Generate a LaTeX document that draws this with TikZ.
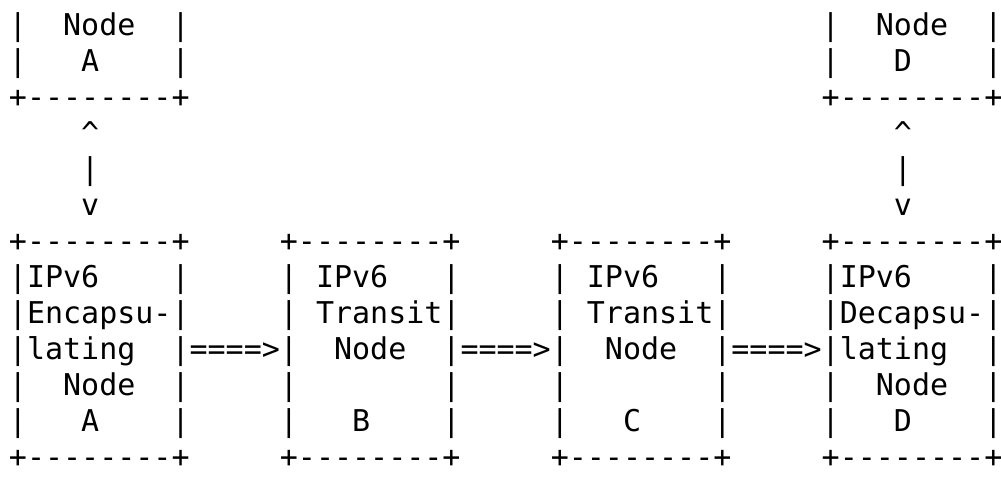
\documentclass[tikz,border=0pt]{standalone}
\usepackage{fontspec}
\setmonofont{DejaVu Sans Mono}
\frenchspacing
\tikzset{
  ascii/.style={font=\ttfamily\fontsize{15pt}{18pt}\selectfont,
    anchor=base west,inner sep=0pt,outer sep=0pt}
}

\begin{document}
\begin{tikzpicture}[x=9.03pt,y=-18pt]
  \useasboundingbox (0pt,0pt) rectangle (500.5pt,-247pt);
  \begin{scope}[shift={(4.5pt,-17.5pt)}]
  % end nodes, upper row
  \node[ascii] (upA1) at (0,0) {|~~Node~~|};
  \node[ascii] (upA2) at (0,1) {|~~~A~~~~|};
  \node[ascii] (upA3) at (0,2) {+--------+};
  \node[ascii] (upD1) at (45,0) {|~~Node~~|};
  \node[ascii] (upD2) at (45,1) {|~~~D~~~~|};
  \node[ascii] (upD3) at (45,2) {+--------+};

  % two-way links down to the tunnel ends
  \node[ascii] (linkA1) at (4,3) {\textasciicircum};
  \node[ascii] (linkA2) at (4,4) {|};
  \node[ascii] (linkA3) at (4,5) {v};
  \node[ascii] (linkD1) at (49,3) {\textasciicircum};
  \node[ascii] (linkD2) at (49,4) {|};
  \node[ascii] (linkD3) at (49,5) {v};

  % tunnel boxes
  \foreach \c/\n in {0/A,15/B,30/C,45/D} {
    \node[ascii] (top\n) at (\c,6) {+--------+};
    \node[ascii] (id\n) at (\c,11) {|~~~\n~~~~|};
    \node[ascii] (bot\n) at (\c,12) {+--------+};
  }
  \node[ascii] (encA1) at (0,7) {|IPv6~~~~|};
  \node[ascii] (encA2) at (0,8) {|Encapsu-|};
  \node[ascii] (encA3) at (0,9) {|lating~~|};
  \node[ascii] (encA4) at (0,10) {|~~Node~~|};

  \node[ascii] (trB1) at (15,7) {|~IPv6~~~|};
  \node[ascii] (trB2) at (15,8) {|~Transit|};
  \node[ascii] (trB3) at (15,9) {|~~Node~~|};
  \node[ascii] (trB4) at (15,10) {|~~~~~~~~|};

  \node[ascii] (trC1) at (30,7) {|~IPv6~~~|};
  \node[ascii] (trC2) at (30,8) {|~Transit|};
  \node[ascii] (trC3) at (30,9) {|~~Node~~|};
  \node[ascii] (trC4) at (30,10) {|~~~~~~~~|};

  \node[ascii] (decD1) at (45,7) {|IPv6~~~~|};
  \node[ascii] (decD2) at (45,8) {|Decapsu-|};
  \node[ascii] (decD3) at (45,9) {|lating~~|};
  \node[ascii] (decD4) at (45,10) {|~~Node~~|};

  % forwarding arrows
  \node[ascii] (fwdAB) at (10,9) {====>};
  \node[ascii] (fwdBC) at (25,9) {====>};
  \node[ascii] (fwdCD) at (40,9) {====>};
  \end{scope}
\end{tikzpicture}
\end{document}
